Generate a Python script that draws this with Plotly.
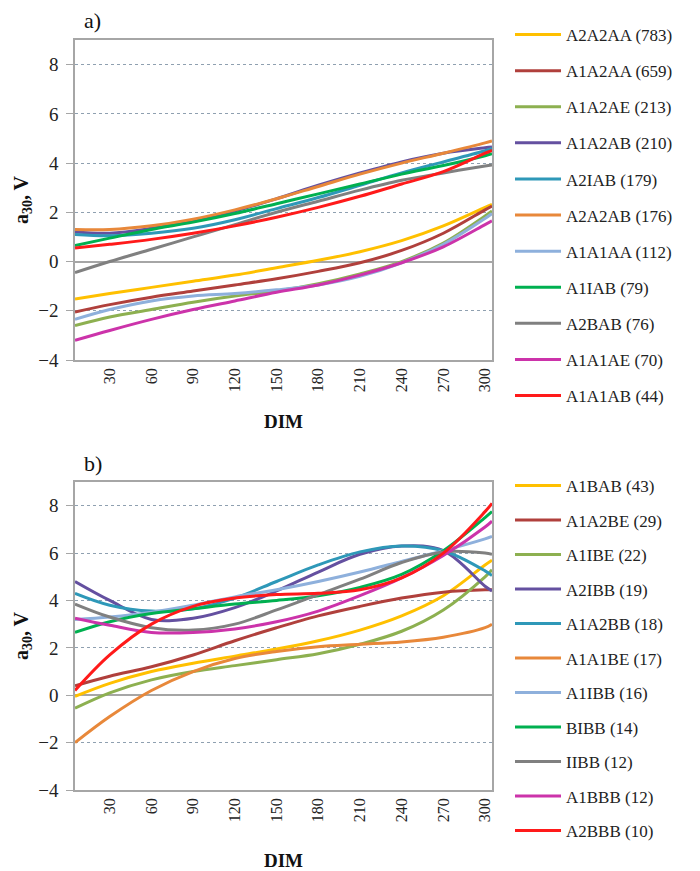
import plotly.graph_objects as go

DIM = [5, 30, 60, 90, 120, 150, 180, 210, 240, 270, 300, 305]
X_TICKS = [30, 60, 90, 120, 150, 180, 210, 240, 270, 300]
Y_TICKS = [-4, -2, 0, 2, 4, 6, 8]

# Panel a)
names_a = ["A2A2AA (783)", "A1A2AA (659)", "A1A2AE (213)", "A1A2AB (210)", "A2IAB (179)",
           "A2A2AB (176)", "A1A1AA (112)", "A1IAB (79)", "A2BAB (76)", "A1A1AE (70)", "A1A1AB (44)"]
A2A2AA = [-1.52, -1.3, -1.05, -0.8, -0.55, -0.25, 0.05, 0.4, 0.85, 1.45, 2.2, 2.32]
A1A2AA = [-2.05, -1.75, -1.45, -1.2, -0.95, -0.7, -0.4, -0.05, 0.45, 1.15, 2.1, 2.25]
A1A2AE = [-2.6, -2.25, -1.95, -1.65, -1.4, -1.2, -0.9, -0.5, 0.0, 0.75, 1.85, 2.05]
A1A2AB = [1.2, 1.15, 1.35, 1.65, 2.05, 2.55, 3.1, 3.6, 4.05, 4.4, 4.62, 4.65]
A2IAB = [1.1, 1.05, 1.15, 1.35, 1.7, 2.15, 2.6, 3.1, 3.6, 4.05, 4.5, 4.6]
A2A2AB = [1.3, 1.3, 1.45, 1.72, 2.1, 2.55, 3.05, 3.55, 4.0, 4.4, 4.82, 4.9]
A1A1AA = [-2.35, -1.95, -1.6, -1.4, -1.3, -1.15, -0.95, -0.6, -0.05, 0.7, 1.75, 1.95]
A1IAB = [0.65, 0.95, 1.3, 1.6, 1.95, 2.35, 2.75, 3.15, 3.55, 3.9, 4.3, 4.38]
A2BAB = [-0.45, 0.0, 0.5, 1.0, 1.5, 2.0, 2.45, 2.9, 3.3, 3.6, 3.88, 3.92]
A1A1AE = [-3.2, -2.8, -2.35, -1.95, -1.6, -1.25, -0.95, -0.55, -0.05, 0.6, 1.5, 1.65]
A1A1AB = [0.55, 0.7, 0.9, 1.15, 1.45, 1.8, 2.2, 2.65, 3.15, 3.65, 4.4, 4.52]
series_a = [A2A2AA, A1A2AA, A1A2AE, A1A2AB, A2IAB, A2A2AB, A1A1AA, A1IAB, A2BAB, A1A1AE, A1A1AB]

# Panel b)
names_b = ["A1BAB (43)", "A1A2BE (29)", "A1IBE (22)", "A2IBB (19)", "A1A2BB (18)",
           "A1A1BE (17)", "A1IBB (16)", "BIBB (14)", "IIBB (12)", "A1BBB (12)", "A2BBB (10)"]
A1BAB = [-0.05, 0.5, 1.0, 1.35, 1.65, 1.95, 2.3, 2.75, 3.35, 4.2, 5.5, 5.7]
A1A2BE = [0.4, 0.8, 1.2, 1.7, 2.3, 2.85, 3.35, 3.75, 4.1, 4.35, 4.45, 4.45]
A1IBE = [-0.55, 0.1, 0.65, 1.0, 1.25, 1.5, 1.75, 2.15, 2.7, 3.6, 5.0, 5.3]
A2IBB = [4.8, 4.0, 3.2, 3.25, 3.7, 4.4, 5.2, 5.95, 6.3, 6.1, 4.6, 4.4]
A1A2BB = [4.3, 3.8, 3.55, 3.65, 4.1, 4.8, 5.5, 6.05, 6.3, 6.1, 5.25, 5.05]
A1A1BE = [-2.0, -0.9, 0.2, 1.0, 1.55, 1.85, 2.05, 2.15, 2.25, 2.45, 2.85, 3.0]
A1IBB = [3.2, 3.3, 3.5, 3.8, 4.15, 4.45, 4.8, 5.2, 5.65, 6.1, 6.6, 6.7]
BIBB = [2.65, 3.1, 3.45, 3.65, 3.85, 4.0, 4.2, 4.55, 5.1, 6.1, 7.5, 7.75]
IIBB = [3.85, 3.3, 2.85, 2.75, 3.0, 3.6, 4.25, 4.9, 5.6, 6.05, 6.0, 5.95]
A1BBB = [3.25, 2.95, 2.65, 2.65, 2.8, 3.1, 3.55, 4.2, 4.95, 5.9, 7.1, 7.35]
A2BBB = [0.2, 1.7, 3.0, 3.75, 4.1, 4.25, 4.3, 4.45, 4.95, 6.0, 7.75, 8.1]
series_b = [A1BAB, A1A2BE, A1IBE, A2IBB, A1A2BB, A1A1BE, A1IBB, BIBB, IIBB, A1BBB, A2BBB]

colors = ["#FFC000", "#B0403C", "#8DB050", "#6450A0", "#2E98B8", "#E8883A",
          "#8EB0DC", "#00B050", "#808080", "#CC33AA", "#FF1A1A"]

FONT = "Liberation Serif"
W, H = 700, 871

fig = go.Figure()
for i, (nm, ys) in enumerate(zip(names_a, series_a)):
    fig.add_trace(go.Scatter(x=DIM, y=ys, name=nm, mode="lines", line=dict(color=colors[i], width=3, shape="spline"),
                             xaxis="x", yaxis="y", legend="legend", legendgroup="a%d" % i))
for i, (nm, ys) in enumerate(zip(names_b, series_b)):
    fig.add_trace(go.Scatter(x=DIM, y=ys, name=nm, mode="lines", line=dict(color=colors[i], width=3, shape="spline"),
                             xaxis="x2", yaxis="y2", legend="legend2", legendgroup="b%d" % i))

def px_x(p):
    return p / W

def px_y(p):
    return 1 - p / H

xcommon = dict(range=[5, 305], tickvals=X_TICKS, tickangle=-90, showgrid=False, zeroline=False,
               showline=True, linecolor="#A6A6A6", linewidth=1.5, mirror=True, ticks="",
               tickfont=dict(family=FONT, size=16, color="#222"), automargin=False,
               domain=[px_x(75), px_x(492)])
ycommon = dict(range=[-4, 9], tickvals=Y_TICKS, showgrid=True, gridcolor="#8FA0B0", griddash="dot",
               gridwidth=1, zeroline=True, zerolinecolor="#A6A6A6", zerolinewidth=1.5,
               showline=True, linecolor="#A6A6A6", linewidth=1.5, mirror=True,
               ticks="outside", ticklen=7, tickcolor="#A6A6A6", automargin=False,
               ticklabelstandoff=4,
               tickfont=dict(family=FONT, size=19, color="#222"),
               title=dict(text="<b>a<sub>30</sub>, V</b>", font=dict(family=FONT, size=20, color="#111"), standoff=4))

fig.update_layout(
    width=W, height=H, margin=dict(l=0, r=0, t=0, b=0, autoexpand=False),
    paper_bgcolor="white", plot_bgcolor="white",
    font=dict(family=FONT, color="#222"),
    xaxis=dict(xcommon, anchor="y",
               title=dict(text="<b>DIM</b>", font=dict(family=FONT, size=19, color="#111"), standoff=24)),
    yaxis=dict(ycommon, anchor="x", domain=[px_y(360), px_y(40)]),
    xaxis2=dict(xcommon, anchor="y2",
                title=dict(text="<b>DIM</b>", font=dict(family=FONT, size=19, color="#111"), standoff=34)),
    yaxis2=dict(ycommon, anchor="x2", domain=[px_y(790), px_y(482)]),
    legend=dict(x=px_x(510), y=px_y(17), xanchor="left", yanchor="top", bgcolor="rgba(0,0,0,0)",
                font=dict(family=FONT, size=17, color="#222"), itemwidth=46, tracegroupgap=11),
    legend2=dict(x=px_x(510), y=px_y(468), xanchor="left", yanchor="top", bgcolor="rgba(0,0,0,0)",
                 font=dict(family=FONT, size=17, color="#222"), itemwidth=46, tracegroupgap=9.4),
    showlegend=True,
    annotations=[
        dict(text="a)", x=px_x(82), y=px_y(20), xref="paper", yref="paper", xanchor="left", yanchor="middle",
             showarrow=False, font=dict(family=FONT, size=22, color="#111")),
        dict(text="b)", x=px_x(82), y=px_y(463), xref="paper", yref="paper", xanchor="left", yanchor="middle",
             showarrow=False, font=dict(family=FONT, size=22, color="#111")),
    ],
)

fig.write_html("out.html", config={"displayModeBar": False},
               post_script="document.body.style.margin='0';")
